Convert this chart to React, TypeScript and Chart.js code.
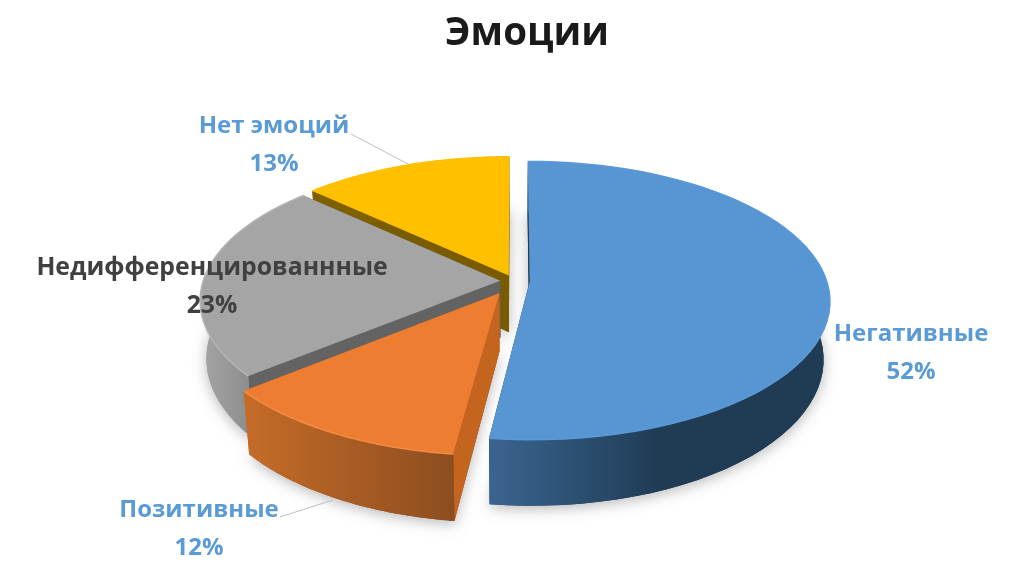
import React, { useEffect, useRef } from "react";
import { Chart, registerables } from "chart.js";

Chart.register(...registerables);

const categories = ["Негативные", "Позитивные", "Недифференцированнные", "Нет эмоций"];
const shares = [52, 12, 23, 13];
const chartTitle = "Эмоции";

const topColors = ["#5796d3", "#ed7d31", "#a5a5a5", "#ffc000"];
const rimColors = ["#5a9ad8", "#f28c45", "#b4b4b4", "#ffc000"];
const wallLeft = ["#3a6590", "#c46b28", "#a3a3a3", "#7f6000"];
const wallRight = ["#203c55", "#8c4d1f", "#8a8a8a", "#7f6000"];
const radialWall = ["#203c55", "#c4651f", "#636363", "#7a5c00"];
const offsets = [12.5, 24, 11, 10.5];
const labelColors = ["#5b9bd5", "#5b9bd5", "#404040", "#5b9bd5"];
const labelSizes = [24, 24, 24.8, 24];
const labelCenters = [[911, 341], [199, 517], [212, 275], [274, 133]];
const leaders = [null, [[280, 517], [333, 500]], null, [[351, 134], [408, 164]]];

const X0 = 514, Y0 = 281, RX = 297, RY = 136.4, K = 0.137, DEPTH = 57, SHRINK = 0.98;

function project(u: number, v: number, low: boolean) {
  const s = 1 / (1 - K * v);
  const x = X0 + RX * u * s;
  const y = Y0 + RY * v * s;
  return low ? [X0 + (x - X0) * SHRINK, y + DEPTH * s] : [x, y];
}

function trace(ctx: CanvasRenderingContext2D, pts: number[][]) {
  ctx.beginPath();
  pts.forEach((p, i) => (i ? ctx.lineTo(p[0], p[1]) : ctx.moveTo(p[0], p[1])));
  ctx.closePath();
}

const pie3d = {
  id: "pie3d",
  beforeDatasetDraw(chart: any) {
    const ctx: CanvasRenderingContext2D = chart.ctx;
    const arcs = chart.getDatasetMeta(0).data;
    const order = [3, 2, 1, 0];
    ctx.save();
    order.forEach((i) => {
      const a = arcs[i];
      const R = a.outerRadius;
      const off = a.options.offset / R;
      const mid = (a.startAngle + a.endAngle) / 2;
      const cu = off * Math.cos(mid);
      const cv = off * Math.sin(mid);
      const rim: number[][] = [];
      const steps = 60;
      for (let n = 0; n <= steps; n++) {
        const t = a.startAngle + ((a.endAngle - a.startAngle) * n) / steps;
        rim.push([cu + Math.cos(t), cv + Math.sin(t)]);
      }
      const topRim = rim.map((p) => project(p[0], p[1], false));
      const lowRim = rim.map((p) => project(p[0], p[1], true));
      const apexTop = project(cu, cv, false);
      const apexLow = project(cu, cv, true);

      // soft shadow from the slice's silhouette
      ctx.save();
      ctx.shadowColor = "rgba(0,0,0,0.28)";
      ctx.shadowBlur = 14;
      ctx.shadowOffsetY = 3;
      ctx.fillStyle = wallRight[i];
      trace(ctx, [apexLow, ...lowRim]);
      ctx.fill();
      ctx.restore();

      // radial walls
      ctx.fillStyle = radialWall[i];
      trace(ctx, [apexTop, topRim[0], lowRim[0], apexLow]);
      ctx.fill();
      trace(ctx, [apexTop, topRim[steps], lowRim[steps], apexLow]);
      ctx.fill();

      // outer wall
      const front = lowRim.filter((_, n) => {
        const t = a.startAngle + ((a.endAngle - a.startAngle) * n) / steps;
        return Math.sin(t) > -0.05;
      });
      const xs = (front.length ? front : lowRim).map((p) => p[0]);
      const grad = ctx.createLinearGradient(Math.min(...xs), 0, Math.max(...xs) + 1, 0);
      grad.addColorStop(0, wallLeft[i]);
      grad.addColorStop(i === 0 ? 0.5 : 1, wallRight[i]);
      ctx.fillStyle = grad;
      trace(ctx, [...topRim, ...lowRim.slice().reverse()]);
      ctx.fill();

      // top face
      ctx.fillStyle = topColors[i];
      trace(ctx, [apexTop, ...topRim]);
      ctx.fill();

      // bevel along the rim
      ctx.strokeStyle = rimColors[i];
      ctx.lineWidth = 1.5;
      ctx.beginPath();
      topRim.forEach((p, n) => (n ? ctx.lineTo(p[0], p[1]) : ctx.moveTo(p[0], p[1])));
      ctx.stroke();
    });
    ctx.restore();
    return false;
  },
  afterDatasetsDraw(chart: any) {
    const ctx: CanvasRenderingContext2D = chart.ctx;
    ctx.save();
    ctx.textAlign = "center";
    ctx.textBaseline = "alphabetic";
    leaders.forEach((l) => {
      if (!l) return;
      ctx.strokeStyle = "#bfbfbf";
      ctx.lineWidth = 1;
      ctx.beginPath();
      ctx.moveTo(l[0][0], l[0][1]);
      ctx.lineTo(l[1][0], l[1][1]);
      ctx.stroke();
    });
    categories.forEach((name, i) => {
      const [x, y] = labelCenters[i];
      ctx.font = `700 ${labelSizes[i]}px 'Open Sans'`;
      ctx.fillStyle = labelColors[i];
      ctx.fillText(name, x, y);
      ctx.fillText(shares[i] + "%", x, y + 38);
    });
    ctx.restore();
  },
};

export default function App() {
  const ref = useRef<HTMLCanvasElement>(null);
  useEffect(() => {
    const chart = new Chart(ref.current!, {
      type: "pie",
      data: {
        labels: categories,
        datasets: [{ data: shares, backgroundColor: topColors, offset: offsets, borderWidth: 0 }],
      },
      options: {
        responsive: false,
        animation: false,
        layout: { padding: { left: 30 } },
        plugins: {
          legend: { display: false },
          tooltip: { enabled: false },
          title: {
            display: true,
            text: chartTitle,
            color: "#1a1a1a",
            font: { family: "'Open Sans'", size: 38.5, weight: "bold" },
            padding: { top: 11, bottom: 20 },
          },
        },
      },
      plugins: [pie3d],
    } as any);
    return () => chart.destroy();
  }, []);
  return (
    <canvas
      ref={ref}
      width={1024}
      height={574}
      style={{ position: "absolute", left: 0, top: 0, width: 1024, height: 574 }}
    />
  );
}
